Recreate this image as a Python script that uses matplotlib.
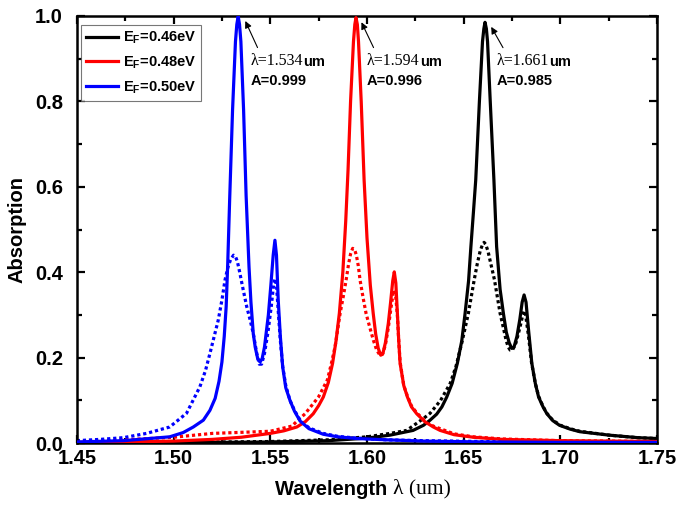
import matplotlib
matplotlib.use('Agg')
import matplotlib.pyplot as plt

plt.rcParams['font.family'] = ['Liberation Sans', 'DejaVu Sans']
plt.rcParams['font.weight'] = 'bold'
plt.rcParams['mathtext.fontset'] = 'custom'
plt.rcParams['mathtext.bf'] = 'Liberation Sans:bold'
plt.rcParams['mathtext.rm'] = 'Liberation Sans:bold'

# E_F = 0.46 eV (black): solid and dotted curves
wl_046 = [1.45, 1.50, 1.55, 1.58, 1.60, 1.612, 1.6238, 1.6292, 1.6326, 1.636, 1.6387, 1.6412,
          1.644, 1.6467, 1.649, 1.6507, 1.6525, 1.6537, 1.655, 1.6562, 1.6581, 1.6597, 1.6604,
          1.661, 1.6617, 1.6623, 1.6637, 1.6656, 1.667, 1.6688, 1.6705, 1.672, 1.6735, 1.6748,
          1.676, 1.6775, 1.679, 1.6802, 1.6812, 1.6822, 1.6835, 1.6852, 1.687, 1.6887, 1.691,
          1.693, 1.696, 1.6995, 1.705, 1.71, 1.725, 1.74, 1.75]
abs_046 = [0.001, 0.001, 0.003, 0.006, 0.012, 0.019, 0.030, 0.042, 0.054, 0.068, 0.085, 0.108,
           0.140, 0.187, 0.240, 0.304, 0.38, 0.46, 0.54, 0.616, 0.80, 0.94, 0.97,
           0.985, 0.97, 0.94, 0.80, 0.616, 0.46, 0.36, 0.304, 0.26, 0.235, 0.222,
           0.225, 0.25, 0.29, 0.33, 0.347, 0.33, 0.265, 0.187, 0.14, 0.108, 0.085,
           0.069, 0.053, 0.042, 0.033, 0.027, 0.019, 0.013, 0.011]
wl_046d = [1.45, 1.50, 1.55, 1.58, 1.60, 1.612, 1.6205, 1.6292, 1.6326, 1.638, 1.643, 1.646,
           1.649, 1.6524, 1.6554, 1.657, 1.6585, 1.6598, 1.6605, 1.6613, 1.6625, 1.664, 1.6659,
           1.6688, 1.6705, 1.6719, 1.673, 1.674, 1.6752, 1.677, 1.679, 1.6805, 1.6812, 1.682,
           1.6835, 1.685, 1.687, 1.6887, 1.691, 1.693, 1.696, 1.70, 1.705, 1.71, 1.725, 1.74, 1.75]
abs_046d = [0.001, 0.002, 0.004, 0.008, 0.015, 0.023, 0.030, 0.058, 0.070, 0.100, 0.140, 0.18,
            0.235, 0.304, 0.382, 0.42, 0.45, 0.466, 0.470, 0.466, 0.45, 0.42, 0.382,
            0.304, 0.27, 0.241, 0.225, 0.218, 0.218, 0.235, 0.27, 0.30, 0.31, 0.30,
            0.25, 0.19, 0.14, 0.11, 0.086, 0.07, 0.054, 0.042, 0.034, 0.028, 0.019, 0.013, 0.011]

# E_F = 0.48 eV (red)
wl_048 = [1.45, 1.475, 1.50, 1.52, 1.535, 1.55, 1.557, 1.5637, 1.568, 1.5722, 1.575, 1.5774,
          1.580, 1.5822, 1.584, 1.5857, 1.5875, 1.589, 1.5902, 1.5915, 1.593, 1.5937, 1.5943,
          1.595, 1.5956, 1.597, 1.5985, 1.600, 1.6017, 1.6032, 1.6045, 1.6058, 1.6071, 1.6082,
          1.6095, 1.611, 1.6122, 1.6133, 1.6141, 1.6149, 1.6157, 1.6164, 1.6171, 1.619, 1.6209,
          1.623, 1.6257, 1.630, 1.6343, 1.6378, 1.645, 1.655, 1.67, 1.70, 1.75]
abs_048 = [0.002, 0.003, 0.005, 0.009, 0.014, 0.023, 0.029, 0.038, 0.050, 0.069, 0.088, 0.108,
           0.142, 0.187, 0.240, 0.304, 0.40, 0.52, 0.64, 0.80, 0.94, 0.98, 0.996,
           0.98, 0.94, 0.80, 0.616, 0.48, 0.37, 0.304, 0.255, 0.222, 0.206, 0.21,
           0.235, 0.28, 0.33, 0.38, 0.401, 0.375, 0.304, 0.24, 0.187, 0.135, 0.108,
           0.085, 0.069, 0.050, 0.038, 0.030, 0.020, 0.014, 0.009, 0.006, 0.004]
wl_048d = [1.45, 1.47, 1.50, 1.52, 1.55, 1.5611, 1.568, 1.5749, 1.5795, 1.5815, 1.5835, 1.5861,
           1.5878, 1.5892, 1.5905, 1.5915, 1.5926, 1.5936, 1.5945, 1.5955, 1.5964, 1.598, 1.5995,
           1.6015, 1.6033, 1.605, 1.6067, 1.608, 1.6095, 1.611, 1.6125, 1.6135, 1.6141, 1.6148,
           1.6157, 1.6164, 1.6171, 1.619, 1.6209, 1.623, 1.6257, 1.630, 1.6343, 1.645, 1.655,
           1.67, 1.70, 1.75]
abs_048d = [0.004, 0.007, 0.014, 0.023, 0.028, 0.040, 0.069, 0.108, 0.148, 0.185, 0.226, 0.304,
            0.345, 0.382, 0.42, 0.443, 0.456, 0.453, 0.44, 0.415, 0.382, 0.34, 0.304,
            0.27, 0.241, 0.218, 0.206, 0.208, 0.23, 0.27, 0.32, 0.35, 0.358, 0.345,
            0.30, 0.24, 0.19, 0.135, 0.11, 0.087, 0.071, 0.052, 0.040, 0.022, 0.015,
            0.010, 0.006, 0.004]

# E_F = 0.50 eV (blue)
wl_050 = [1.45, 1.474, 1.498, 1.505, 1.5102, 1.5154, 1.5188, 1.5215, 1.5235, 1.525, 1.5262,
          1.5272, 1.528, 1.529, 1.5305, 1.532, 1.5327, 1.5334, 1.5341, 1.5348, 1.5362, 1.5375,
          1.539, 1.540, 1.5412, 1.5422, 1.5435, 1.5447, 1.5458, 1.547, 1.549, 1.5503, 1.5515,
          1.5524, 1.5532, 1.5541, 1.5552, 1.5564, 1.558, 1.5602, 1.5625, 1.5654, 1.570, 1.5774,
          1.585, 1.5947, 1.61, 1.6292, 1.66, 1.70, 1.75]
abs_050 = [0.003, 0.006, 0.015, 0.025, 0.038, 0.054, 0.077, 0.105, 0.145, 0.19, 0.25,
           0.32, 0.42, 0.57, 0.78, 0.94, 0.98, 0.999, 0.98, 0.94, 0.78, 0.58,
           0.413, 0.33, 0.257, 0.225, 0.198, 0.190, 0.198, 0.225, 0.30, 0.37, 0.44,
           0.475, 0.44, 0.335, 0.25, 0.179, 0.13, 0.10, 0.075, 0.052, 0.034, 0.021,
           0.015, 0.011, 0.008, 0.005, 0.003, 0.002, 0.002]
wl_050d = [1.45, 1.462, 1.474, 1.486, 1.498, 1.5067, 1.5136, 1.5165, 1.5188, 1.521, 1.5231,
           1.525, 1.5266, 1.528, 1.5295, 1.531, 1.532, 1.533, 1.5342, 1.5355, 1.5378, 1.5395,
           1.5412, 1.543, 1.5443, 1.5455, 1.547, 1.5488, 1.5505, 1.5517, 1.5524, 1.5532, 1.5541,
           1.5552, 1.5564, 1.558, 1.5602, 1.5625, 1.5654, 1.570, 1.5774, 1.585, 1.5947, 1.61,
           1.6292, 1.66, 1.70, 1.75]
abs_050d = [0.006, 0.009, 0.013, 0.023, 0.038, 0.070, 0.132, 0.17, 0.21, 0.25, 0.288,
            0.335, 0.382, 0.41, 0.43, 0.44, 0.437, 0.425, 0.40, 0.37, 0.32, 0.29,
            0.257, 0.21, 0.185, 0.185, 0.21, 0.26, 0.32, 0.37, 0.385, 0.37, 0.31,
            0.24, 0.18, 0.135, 0.10, 0.077, 0.054, 0.036, 0.023, 0.016, 0.012, 0.008,
            0.006, 0.004, 0.003, 0.002]

labels = [r'E$_\mathbf{F}$=0.46eV', r'E$_\mathbf{F}$=0.48eV', r'E$_\mathbf{F}$=0.50eV']
colors = ['black', 'red', 'blue']
peak_wl = ['1.661', '1.594', '1.534']
peak_abs = ['0.985', '0.996', '0.999']

fig = plt.figure(figsize=(6.86, 5.13), dpi=100)
ax = fig.add_axes([0.112, 0.136, 0.846, 0.833])

solid = [(wl_046, abs_046), (wl_048, abs_048), (wl_050, abs_050)]
dotted = [(wl_046d, abs_046d), (wl_048d, abs_048d), (wl_050d, abs_050d)]
for (x, y), (xd, yd), c, lab in zip(solid, dotted, colors, labels):
    ax.plot(x, y, color=c, lw=2.3, label=lab, zorder=3, solid_joinstyle='round')
    ax.plot(xd, yd, color=c, lw=2.3, ls=(0, (1.0, 0.9)), dash_capstyle='butt', zorder=2)

ax.set_xlim(1.45, 1.75)
ax.set_ylim(0, 1.0)
ax.set_xticks([1.45, 1.50, 1.55, 1.60, 1.65, 1.70, 1.75])
ax.set_xticks([1.475, 1.525, 1.575, 1.625, 1.675, 1.725], minor=True)
ax.set_yticks([0.0, 0.2, 0.4, 0.6, 0.8, 1.0])
ax.set_yticks([0.1, 0.3, 0.5, 0.7, 0.9], minor=True)
ax.set_xticklabels(['1.45', '1.50', '1.55', '1.60', '1.65', '1.70', '1.75'])
ax.set_yticklabels(['0.0', '0.2', '0.4', '0.6', '0.8', '1.0'])
ax.tick_params(which='both', direction='in', top=True, right=True, width=1.6,
               labelsize=14.5)
ax.tick_params(axis='x', pad=4)
ax.tick_params(axis='y', pad=10)
ax.tick_params(which='major', length=6)
ax.tick_params(which='minor', length=3.5)
for s in ax.spines.values():
    s.set_linewidth(1.8)

ax.set_ylabel('Absorption', fontsize=14.5, fontweight='bold', labelpad=6)
t1 = ax.text(0.545, -0.085, 'Wavelength ', transform=ax.transAxes, fontsize=14.5,
             fontweight='bold', ha='right', va='top')
ax.annotate('λ (um)', xy=(1, 0), xycoords=t1, va='bottom', ha='left', fontsize=15.5,
            family='Liberation Serif', fontweight='normal')

leg = ax.legend(loc='upper left', bbox_to_anchor=(0.0, 0.99), borderaxespad=0.3,
                fontsize=10.5, frameon=True, fancybox=False, edgecolor='#555555',
                handlelength=2.2, handletextpad=0.3, borderpad=0.35, labelspacing=0.55)
leg.get_frame().set_linewidth(0.8)

# peak annotations
for pw, pa, c in zip(peak_wl, peak_abs, colors):
    xp = float(pw)
    yp = float(pa)
    ax.annotate('', xy=(xp + 0.0025, yp - 0.005), xytext=(xp + 0.0100, 0.920),
                arrowprops=dict(arrowstyle='-|>', color='black', lw=0.8,
                                mutation_scale=10))
    tl = ax.text(xp + 0.0060, 0.895, 'λ=' + pw, family='Liberation Serif',
                 fontweight='normal', fontsize=11.5, va='center', ha='left')
    ax.annotate('um', xy=(1, 0), xycoords=tl, xytext=(0, 0), textcoords='offset points',
                va='bottom', ha='left', fontsize=10.5, fontweight='bold')
    ax.text(xp + 0.0060, 0.847, 'A=' + pa, fontsize=10.5, fontweight='bold',
            va='center', ha='left')

fig.savefig('out.png', dpi=100)
